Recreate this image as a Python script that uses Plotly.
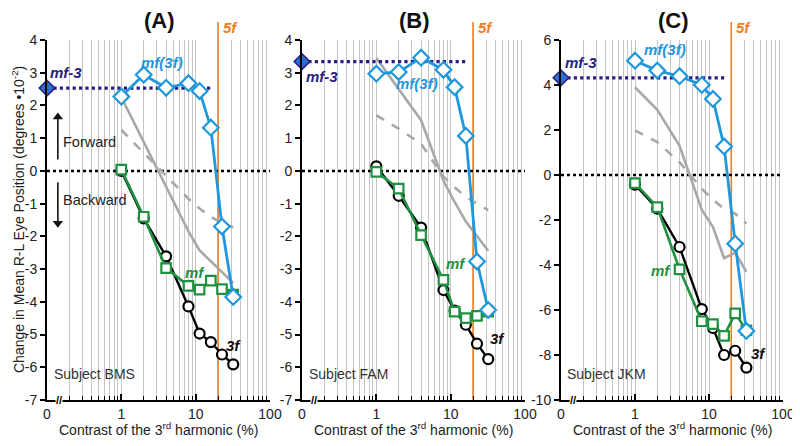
import math
import plotly.graph_objects as go

# ---------------- data ----------------
CONTRAST = [1, 2, 4, 8, 11.3, 16, 22.6, 32]
PANEL_TITLES = ["(A)", "(B)", "(C)"]
SUBJECTS = ["Subject BMS", "Subject FAM", "Subject JKM"]
FIVE_F = 20
AXIS_ZERO = 0.1           # position where the broken axis shows "0"
X_TICKVALS = [0.1, 1, 10, 100]
X_TICKTEXT = ["0", "1", "10", "100"]

A_3F = [0.0, -1.45, -2.61, -4.14, -4.97, -5.23, -5.61, -5.91]
A_MF = [0.04, -1.40, -2.97, -3.51, -3.63, -3.35, -3.61, -3.78]
A_MF3F = [2.27, 2.94, 2.54, 2.68, 2.44, 1.32, -1.70, -3.85]
A_GRAY = [2.25, 0.88, -0.48, -1.85, -2.43, -2.77, -3.09, -3.42]
A_DASH = [1.25, 0.55, -0.15, -0.85, -1.15, -1.40, -1.60, -1.72]
A_MF3 = 2.53

B_3F = [0.14, -0.76, -1.73, -3.64, -4.27, -4.70, -5.28, -5.75]
B_MF = [-0.03, -0.54, -1.96, -3.33, -4.30, -4.50, -4.43, -4.30]
B_MF3F = [2.97, 3.02, 3.46, 3.09, 2.56, 1.07, -2.77, -4.25]
B_GRAY = [3.45, 2.50, 1.55, -0.30, -0.95, -1.55, -2.00, -2.44]
B_DASH = [1.70, 1.29, 0.83, -0.18, -0.50, -0.79, -1.00, -1.20]
B_MF3 = 3.34

C_3F = [-0.43, -1.50, -3.20, -5.96, -6.80, -8.00, -7.81, -8.56]
C_MF = [-0.36, -1.43, -4.19, -6.50, -6.63, -7.15, -6.15, -6.90]
C_MF3F = [5.08, 4.64, 4.39, 4.00, 3.38, 1.27, -3.05, -6.93]
C_GRAY = [3.90, 2.90, 1.30, -1.55, -2.30, -3.70, -3.45, -4.30]
C_DASH = [1.98, 1.46, 0.57, -0.61, -1.10, -1.50, -1.72, -2.16]
C_MF3 = 4.32

MF3_END = [16, 17, 17.5]
Y_RANGES = [[-7, 4], [-7, 4], [-10, 6]]
Y_STEPS = [1, 1, 2]

# forward / backward direction arrows in panel A (x, y-from, y-to)
FWD_ARROW = (0.14, 0.35, 1.65)
BWD_ARROW = (0.14, -0.35, -1.6)

SERIES = [
    (A_3F, A_MF, A_MF3F, A_GRAY, A_DASH, A_MF3),
    (B_3F, B_MF, B_MF3F, B_GRAY, B_DASH, B_MF3),
    (C_3F, C_MF, C_MF3F, C_GRAY, C_DASH, C_MF3),
]

# ---------------- style ----------------
OFF = 8                      # page body margin
W, H = 800 - OFF, 446 - OFF
FONT = "Arial, Liberation Sans, sans-serif"
BLUE = "#1f97dc"
GREEN = "#1f9140"
NAVY = "#28207f"
ORANGE = "#ef7d22"
GRAY = "#a8a8a8"
GRID = "#c6c6c6"

X_DOMAINS_PX = [(47, 270), (302, 525), (561, 783)]
Y_TOP_PX, Y_BOT_PX = 40, 400


def P(x):
    return (x - OFF) / W


def Q(y):
    return 1 - (y - OFF) / H


MINOR = [m * d for d in (0.1, 1, 10) for m in range(2, 10)]

LABELS = [
    dict(mf3=(66, 73), mf3f=(162, 62), mf=(195, 272), f3=(233, 345), subj=(52, 374)),
    dict(mf3=(322, 76), mf3f=(417, 83), mf=(456, 263), f3=(497, 338), subj=(307, 374)),
    dict(mf3=(581, 62), mf3f=(665, 50), mf=(661, 270), f3=(758, 353), subj=(565, 374)),
]


def ann(x, y, text, size, color, xanchor="center", **kw):
    d = dict(x=x, y=y, xref="paper", yref="paper", text=text, showarrow=False,
             xanchor=xanchor, yanchor="middle",
             font=dict(size=size, color=color, family=FONT))
    d.update(kw)
    return d


fig = go.Figure()
annotations = []
shapes = []

for i in range(3):
    s = "" if i == 0 else str(i + 1)
    xa, ya = "x" + s, "y" + s
    three_f, mf, mf3f, gray, dash, mf3 = SERIES[i]
    ymin, ymax = Y_RANGES[i]
    upx = (ymax - ymin) / (Y_BOT_PX - Y_TOP_PX)   # data units per pixel

    # 5f vertical line
    fig.add_trace(go.Scatter(x=[FIVE_F, FIVE_F], y=[ymin, ymax], mode="lines",
                             line=dict(color=ORANGE, width=1.6), xaxis=xa, yaxis=ya,
                             hoverinfo="skip"))
    # zero line
    fig.add_trace(go.Scatter(x=[AXIS_ZERO, 100], y=[0, 0], mode="lines",
                             line=dict(color="black", width=2.5, dash="dot"),
                             xaxis=xa, yaxis=ya))
    # gray predictions
    fig.add_trace(go.Scatter(x=CONTRAST, y=gray, mode="lines",
                             line=dict(color=GRAY, width=2.6), xaxis=xa, yaxis=ya))
    fig.add_trace(go.Scatter(x=CONTRAST, y=dash, mode="lines",
                             line=dict(color=GRAY, width=2.6, dash="dash"),
                             xaxis=xa, yaxis=ya))
    # mf-3 dotted line
    fig.add_trace(go.Scatter(x=[AXIS_ZERO, MF3_END[i]], y=[mf3, mf3], mode="lines",
                             line=dict(color=NAVY, width=3.2, dash="dot"),
                             xaxis=xa, yaxis=ya))
    # 3f
    fig.add_trace(go.Scatter(x=CONTRAST, y=three_f, mode="lines+markers",
                             line=dict(color="black", width=2.4),
                             marker=dict(symbol="circle", size=10, color="white",
                                         line=dict(color="black", width=2.2)),
                             xaxis=xa, yaxis=ya))
    # mf
    fig.add_trace(go.Scatter(x=CONTRAST, y=mf, mode="lines+markers",
                             line=dict(color=GREEN, width=2.6),
                             marker=dict(symbol="square", size=9.5, color="white",
                                         line=dict(color=GREEN, width=2.2)),
                             xaxis=xa, yaxis=ya))
    # mf(3f)
    fig.add_trace(go.Scatter(x=CONTRAST, y=mf3f, mode="lines+markers",
                             line=dict(color=BLUE, width=2.8),
                             marker=dict(symbol="diamond", size=12, color="white",
                                         line=dict(color=BLUE, width=2.2)),
                             xaxis=xa, yaxis=ya))
    # mf-3 marker
    fig.add_trace(go.Scatter(x=[AXIS_ZERO], y=[mf3], mode="markers",
                             marker=dict(symbol="diamond", size=12, color="#2a6fd0",
                                         line=dict(color=NAVY, width=1.5)),
                             cliponaxis=False, xaxis=xa, yaxis=ya))
    # 5f arrow head above the plot
    fig.add_trace(go.Scatter(x=[FIVE_F], y=[ymax + 8 * upx], mode="markers",
                             marker=dict(symbol="triangle-down", size=10, color=ORANGE),
                             cliponaxis=False, xaxis=xa, yaxis=ya))
    shapes.append(dict(type="line", xref=xa, yref="paper", x0=FIVE_F, x1=FIVE_F,
                       y0=Q(Y_TOP_PX), y1=Q(22), line=dict(color=ORANGE, width=1.6)))

    x0p, x1p = X_DOMAINS_PX[i]
    yvals = list(range(ymin, ymax + 1, Y_STEPS[i]))
    xaxis = dict(type="log", range=[math.log10(AXIS_ZERO), 2],
                 domain=[P(x0p), P(x1p)], anchor=ya,
                 showline=True, linecolor="black", linewidth=2,
                 ticks="inside", ticklen=6, tickwidth=1.5, tickcolor="black",
                 tickvals=X_TICKVALS, ticktext=X_TICKTEXT,
                 tickfont=dict(size=14, color="#222", family=FONT),
                 showgrid=True, gridcolor=GRID, gridwidth=1, zeroline=False,
                 minor=dict(tickvals=MINOR, ticks="inside", ticklen=4, tickwidth=1.2,
                            tickcolor="black", showgrid=True, gridcolor=GRID, gridwidth=1))
    yaxis = dict(range=[ymin, ymax], domain=[Q(Y_BOT_PX), Q(Y_TOP_PX)], anchor=xa,
                 showline=True, linecolor="black", linewidth=2,
                 ticks="outside", ticklen=5, tickwidth=1.5, tickcolor="black",
                 tickvals=yvals, ticktext=[str(v) for v in yvals],
                 tickfont=dict(size=14, color="#222", family=FONT),
                 showgrid=False, zeroline=False)
    fig.update_layout(**{"xaxis" + s: xaxis, "yaxis" + s: yaxis})

    # panel title
    annotations.append(ann(P((x0p + x1p) / 2 + 1), Q(20), "<b>%s</b>" % PANEL_TITLES[i],
                           22, "#111"))
    # x title
    annotations.append(ann(P((x0p + x1p) / 2), Q(429),
                           "Contrast of the 3<sup>rd</sup> harmonic (%)", 14, "#222"))
    # axis break
    annotations.append(dict(x=math.log10(0.145), y=Q(Y_BOT_PX), xref=xa, yref="paper",
                            text="<b>//</b>", showarrow=False, bgcolor="white",
                            xanchor="center", yanchor="middle", borderpad=0,
                            font=dict(size=11, color="black", family=FONT)))
    annotations.append(dict(x=math.log10(FIVE_F), y=Q(27), xref=xa, yref="paper",
                            xanchor="left", yanchor="middle", xshift=3,
                            text="<b><i>5f</i></b>", showarrow=False,
                            font=dict(size=15, color=ORANGE, family=FONT)))
    lab = LABELS[i]
    for key, txt, col in (("mf3", "mf-3", NAVY), ("mf3f", "mf(3f)", BLUE),
                          ("mf", "mf", GREEN), ("f3", "3f", "#111")):
        annotations.append(ann(P(lab[key][0]), Q(lab[key][1]),
                               "<b><i>%s</i></b>" % txt, 15, col))
    annotations.append(ann(P(lab["subj"][0]), Q(lab["subj"][1]), SUBJECTS[i],
                           14, "#333", xanchor="left"))

# Forward / Backward arrows (panel A)
for (ax_x, y_from, y_to), sym in ((FWD_ARROW, "triangle-up"), (BWD_ARROW, "triangle-down")):
    fig.add_trace(go.Scatter(x=[ax_x, ax_x], y=[y_from, y_to], mode="lines",
                             line=dict(color="#111", width=1.6), xaxis="x", yaxis="y"))
    fig.add_trace(go.Scatter(x=[ax_x], y=[y_to], mode="markers",
                             marker=dict(symbol=sym, size=9, color="#111"),
                             xaxis="x", yaxis="y"))

# y-axis title
annotations.append(ann(P(18), Q(220),
                       "Change in Mean R-L Eye Position (degrees \u202210<sup>-2</sup>)",
                       14, "#222", textangle=-90))
annotations.append(ann(P(61), Q(142), "Forward", 14.5, "#222", xanchor="left"))
annotations.append(ann(P(61), Q(200), "Backward", 14.5, "#222", xanchor="left"))

fig.update_layout(width=W, height=H,
                  margin=dict(l=0, r=0, t=0, b=0, autoexpand=False),
                  paper_bgcolor="white", plot_bgcolor="white", showlegend=False,
                  annotations=annotations, shapes=shapes,
                  font=dict(family=FONT))

fig.write_html("out.html")
